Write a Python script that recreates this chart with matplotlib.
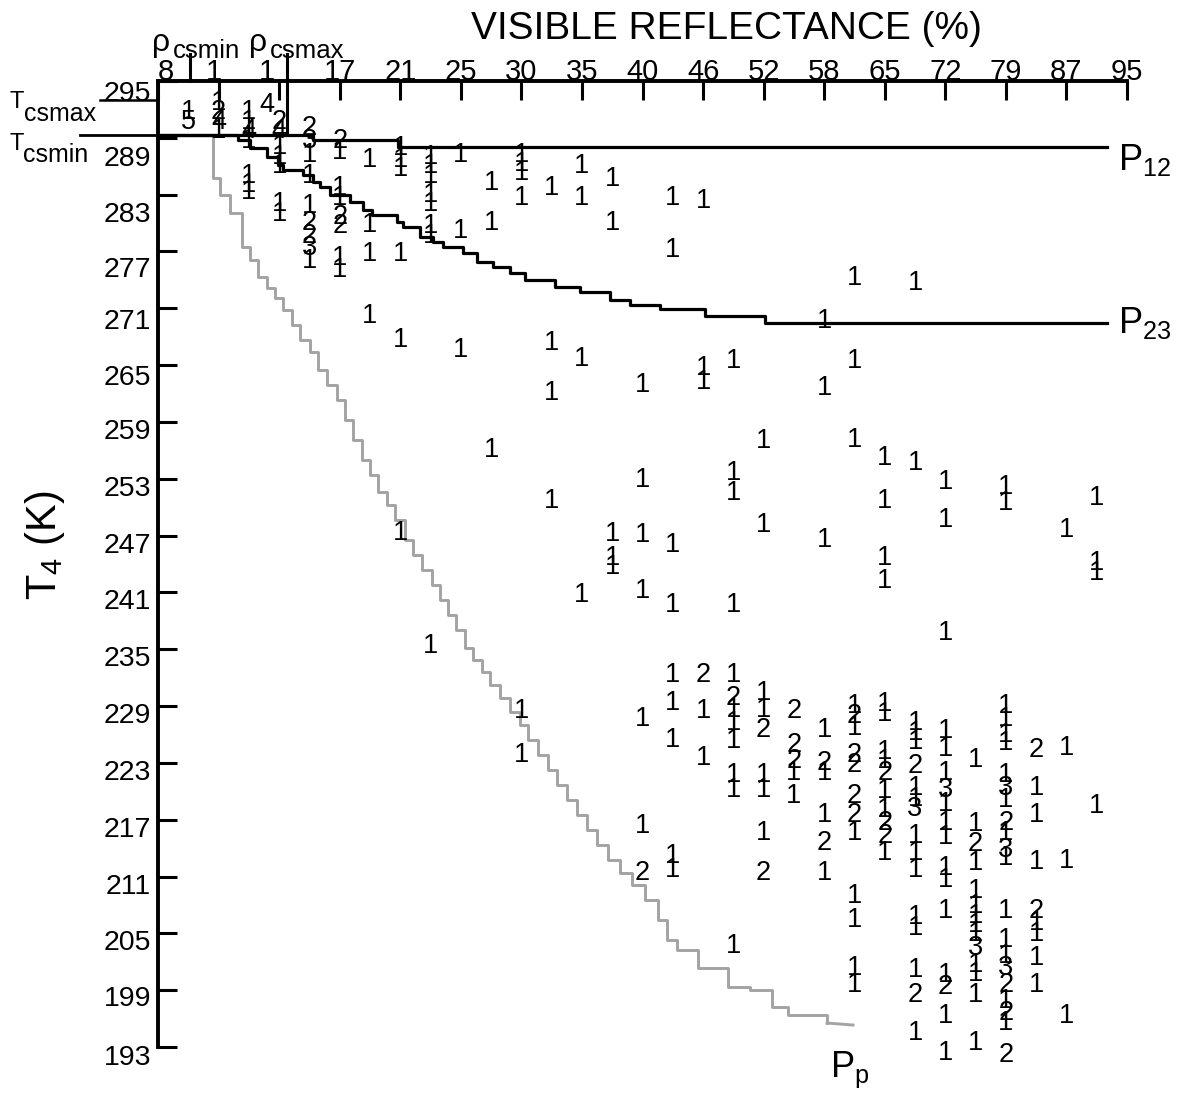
import matplotlib
matplotlib.use("Agg")
import matplotlib.pyplot as plt
import matplotlib.transforms as mtransforms

W, H, DPI = 1183, 1097, 100
plt.rcParams['font.family'] = ['Liberation Sans', 'DejaVu Sans']
plt.rcParams['mathtext.fontset'] = 'custom'
plt.rcParams['mathtext.rm'] = 'Liberation Sans'
plt.rcParams['mathtext.default'] = 'regular'

# ---------------- axis data ----------------
refl_labels = ['8', '1', '1', '17', '21', '25', '30', '35', '40', '46', '52',
               '58', '65', '72', '79', '87', '95']
refl_pos = list(range(len(refl_labels)))          # evenly spaced tick index
t4_ticks = list(range(193, 296, 6))

t_csmax = 293.0
t_csmin = 289.3
rho_csmin = 0.53
rho_csmax = 2.13

# ---------------- threshold curves (x in tick-index units, T in K) --------
p12_x = [0.00, 2.56, 3.96, 15.67]
p12_T = [289.30, 288.77, 288.03, 288.03]

p23_x = [0.00, 1.19, 1.32, 1.52, 1.80, 1.98, 2.06, 2.39, 2.56, 2.67, 2.84,
         3.17, 3.39, 3.53, 3.95, 4.05, 4.33, 4.54, 4.71, 5.04, 5.27, 5.53,
         5.81, 6.06, 6.56, 6.97, 7.46, 7.79, 8.29, 9.03, 10.02, 15.67]
p23_T = [289.30, 289.30, 288.77, 287.93, 286.97, 286.13, 285.60, 285.07,
         284.33, 283.81, 282.96, 282.22, 281.38, 280.85, 280.11, 279.58,
         278.53, 278.00, 277.47, 276.84, 275.89, 275.36, 274.73, 273.99,
         273.25, 272.72, 271.87, 271.35, 270.92, 270.19, 269.45, 269.45]

pp_x = [0.908, 0.908, 1.024, 1.189, 1.387, 1.519, 1.651, 1.800, 1.932, 2.064,
        2.213, 2.345, 2.510, 2.642, 2.790, 2.956, 3.088, 3.220, 3.369, 3.501,
        3.633, 3.781, 3.913, 4.079, 4.211, 4.359, 4.524, 4.657, 4.789, 4.921,
        5.069, 5.201, 5.350, 5.482, 5.647, 5.812, 5.978, 6.110, 6.275, 6.440,
        6.588, 6.754, 6.919, 7.084, 7.249, 7.431, 7.629, 7.827, 8.042, 8.256,
        8.405, 8.570, 8.917, 9.412, 9.775, 10.139, 10.403, 11.047]
pp_T = [289.30, 284.76, 282.96, 281.06, 277.47, 276.10, 274.30, 273.14,
        272.09, 270.82, 269.24, 267.65, 266.38, 264.48, 262.90, 261.32,
        259.20, 257.09, 254.98, 253.39, 251.60, 250.22, 248.64, 246.53,
        244.95, 243.36, 241.78, 240.19, 238.61, 237.02, 235.12, 233.86,
        232.59, 231.22, 229.85, 228.37, 226.99, 225.41, 223.83, 222.24,
        220.66, 219.07, 217.49, 215.91, 214.33, 212.74, 211.37, 210.10,
        208.52, 206.41, 204.30, 203.24, 201.34, 199.33, 199.01, 197.22,
        196.37, 195.53]
pp_end_x = [11.047, 11.476]
pp_end_T = [195.53, 195.32]

# ---------------- histogram counts: column x, T, count ----------------
cnt_x = []
cnt_T = []
cnt_n = []
def col(x, pairs):
    for T, n in pairs:
        cnt_x.append(x); cnt_T.append(T); cnt_n.append(n)

col(0.5, [(292, 1), (291, 5)])
col(1.0, [(293, 1), (292, 2), (291, 4), (290, 1)])
col(1.8, [(292.8, 4)])
col(1.5, [(292, 1), (291, 1), (290, 4), (289, 1), (285.3, 1), (284.3, 1), (283.6, 1)])
col(2.0, [(291, 2), (290, 4), (288.3, 1), (287.3, 1), (286.3, 1), (282.3, 1), (281.3, 1)])
col(2.5, [(290.4, 2), (289, 3), (287.5, 1), (285.3, 1), (282.1, 1), (280.3, 2),
          (279, 2), (277.7, 3), (276.3, 1)])
col(3.0, [(289, 2), (287.8, 1), (284, 1), (283, 1), (281, 2), (280, 2),
          (276.6, 1), (275.4, 1)])
col(3.5, [(287, 1), (280.1, 1), (277, 1), (270.5, 1)])
col(4.0, [(288.2, 1), (287, 1), (286, 1), (277, 1), (268, 1), (247.6, 1)])
col(4.5, [(287.3, 1), (286.3, 1), (285.3, 1), (283.3, 1), (282.3, 1), (280, 1),
          (279, 1), (235.7, 1)])
col(5.0, [(287.5, 1), (279.5, 1), (266.9, 1)])
col(5.5, [(284.5, 1), (280.3, 1), (256.4, 1)])
col(6.0, [(287.5, 1), (286.6, 1), (285.6, 1), (283, 1), (228.8, 1), (224.1, 1)])
col(6.5, [(284, 1), (267.6, 1), (262.4, 1), (251, 1)])
col(7.0, [(286.3, 1), (283, 1), (266, 1), (241, 1)])
col(7.5, [(285, 1), (280.3, 1), (247.5, 1), (245, 1), (244, 1)])
col(8.0, [(263.2, 1), (253.2, 1), (247.4, 1), (241.5, 1), (228, 1), (216.6, 1), (211.7, 2)])
col(8.5, [(283, 1), (277.5, 1), (246.3, 1), (240, 1), (232.6, 1), (229.6, 1),
          (225.7, 1), (213.5, 1), (212, 1)])
col(9.0, [(282.6, 1), (265, 1), (263.5, 1), (232.6, 2), (228.8, 1), (223.8, 1)])
col(9.5, [(265.8, 1), (253.9, 1), (251.8, 1), (240, 1), (232.6, 1), (230.2, 2),
          (228.9, 1), (227.5, 1), (225.6, 1), (222, 1), (220.5, 1), (204, 1)])
col(10.0, [(257.3, 1), (248.4, 1), (230.7, 1), (228.9, 1), (226.8, 2), (222, 1),
           (220.5, 1), (215.9, 1), (211.7, 2)])
col(10.5, [(228.8, 2), (225.2, 2), (223.5, 2), (222.2, 1), (219.8, 1)])
col(11.0, [(270, 1), (262.9, 1), (246.8, 1), (226.8, 1), (223.3, 2), (222.2, 1),
           (217.8, 1), (214.9, 2), (211.7, 1)])
col(11.5, [(274.5, 1), (265.8, 1), (257.4, 1), (229.3, 1), (228.3, 2), (227, 1),
           (224.1, 2), (223.1, 2), (219.8, 2), (217.8, 2), (215.9, 1), (209.3, 1),
           (206.7, 1), (201.7, 1), (199.9, 1)])
col(12.0, [(255.5, 1), (251, 1), (245, 1), (242.5, 1), (229.5, 1), (228.5, 1),
           (224.5, 1), (223.5, 1), (222.2, 2), (220.3, 1), (218.3, 1), (217, 2),
           (215.6, 2), (213.8, 1)])
col(12.5, [(274, 1), (255, 1), (227.5, 1), (226.5, 1), (225.5, 1), (223, 2),
           (220.7, 1), (219.5, 1), (218.5, 3), (215.6, 1), (213.8, 1), (212, 1),
           (207, 1), (205.9, 1), (201.4, 1), (198.8, 2), (194.8, 1)])
col(13.0, [(253, 1), (249, 1), (237, 1), (226.7, 1), (224.8, 1), (222.3, 1),
           (220.5, 3), (219, 1), (217, 1), (215.5, 1), (212.2, 1), (211, 1),
           (207.7, 1), (200.9, 1), (199.7, 2), (196.6, 1), (192.7, 1)])
col(13.5, [(223.6, 1), (216.9, 1), (214.7, 2), (212.7, 1), (209.8, 1), (208.2, 1),
           (207.2, 1), (206.2, 1), (205.2, 1), (203.8, 3), (202, 1), (201, 1),
           (198.8, 1), (193.7, 1)])
col(14.0, [(252.5, 1), (250.8, 1), (229.3, 1), (228, 1), (226.3, 1), (225.4, 1),
           (222, 1), (220.7, 3), (219.4, 1), (217, 2), (215.9, 1), (214.1, 3),
           (213.3, 1), (207.7, 1), (204.6, 1), (202.9, 1), (201.7, 3), (199.9, 2),
           (198.2, 1), (196.9, 2), (195.8, 1), (192.5, 2)])
col(14.5, [(224.7, 2), (220.7, 1), (217.8, 1), (212.9, 1), (207.7, 2), (206.4, 1),
           (205.3, 1), (202.7, 1), (199.9, 1)])
col(15.0, [(247.9, 1), (224.9, 1), (213, 1), (196.6, 1)])
col(15.5, [(251.3, 1), (244.4, 1), (243.4, 1), (218.8, 1)])

# ---------------- figure ----------------
fig = plt.figure(figsize=(W / DPI, H / DPI), dpi=DPI)
ax = fig.add_axes([158 / W, 1 - 1047 / H, 969 / W, 966 / H])
ax.set_xlim(0, 16)
ax.set_ylim(193, 295)
for s in ('right', 'bottom'):
    ax.spines[s].set_visible(False)
for s in ('top', 'left'):
    ax.spines[s].set_linewidth(2.8)

ax.xaxis.tick_top()
ax.set_xticks(refl_pos)
ax.set_xticklabels(refl_labels)
ax.set_yticks(t4_ticks)
ax.set_yticklabels([str(t) for t in t4_ticks])
ax.tick_params(axis='x', direction='in', length=13.7, width=2.2, pad=-3.5, labelsize=21)
ax.tick_params(axis='y', direction='in', length=13.7, width=2.2, pad=5, labelsize=20.5)

x_lab_off = [8, -5, -12] + [0] * 14
for lab, off in zip(ax.get_xticklabels(), x_lab_off):
    lab.set_transform(lab.get_transform() +
                      mtransforms.ScaledTranslation(off / DPI, 0, fig.dpi_scale_trans))
y_lab_off = [8, 6, 7, 7, 7, 7, 7, 7, 7, 7, 7, 7, 10, 11, 16, 17, 18, 10]
for lab, off in zip(ax.get_yticklabels(), y_lab_off):
    lab.set_transform(lab.get_transform() +
                      mtransforms.ScaledTranslation(0, -off / DPI, fig.dpi_scale_trans))

# curves
ax.plot(pp_x, pp_T, drawstyle='steps-post', color='#a3a3a3', lw=2.1, clip_on=False)
ax.plot(pp_end_x, pp_end_T, color='#a3a3a3', lw=2.1, clip_on=False)
ax.plot(p12_x, p12_T, drawstyle='steps-post', color='black', lw=2.3, clip_on=False)
ax.plot(p23_x, p23_T, drawstyle='steps-post', color='black', lw=2.3, clip_on=False)

# clear-sky threshold markers
ax.plot([-1.29, 0], [t_csmin, t_csmin], color='black', lw=2.0, clip_on=False)
ax.plot([-0.96, 0], [t_csmax, t_csmax], color='black', lw=1.8, clip_on=False)
ax.plot([rho_csmin, rho_csmin], [295, 297.9], color='black', lw=2.2, clip_on=False)
ax.plot([rho_csmax, rho_csmax], [t_csmin, 297.9], color='black', lw=2.2, clip_on=False)

# counts
for x, T, n in zip(cnt_x, cnt_T, cnt_n):
    ax.text(x, T, str(n), ha='center', va='center_baseline', fontsize=19.5,
            clip_on=False)

# labels (figure pixel coordinates, origin top-left)
def ptext(x, y, s, **kw):
    fig.text(x / W, 1 - y / H, s, **kw)

ptext(726, 39, 'VISIBLE REFLECTANCE (%)', ha='center', va='baseline', fontsize=28)
ptext(45, 545, r'T$_{4}$ (K)', ha='center', va='center', rotation=90, fontsize=30)
ptext(1118, 170, r'P$_{12}$', ha='left', va='baseline', fontsize=26)
ptext(1118, 333, r'P$_{23}$', ha='left', va='baseline', fontsize=26)
ptext(830, 1077, r'P$_{p}$', ha='left', va='baseline', fontsize=26)

ptext(9, 108, 'T', ha='left', va='baseline', fontsize=17)
ptext(24, 121, 'csmax', ha='left', va='baseline', fontsize=18)
ptext(9, 150, 'T', ha='left', va='baseline', fontsize=17)
ptext(23, 162, 'csmin', ha='left', va='baseline', fontsize=18)
ptext(152, 51, 'ρ', ha='left', va='baseline', fontsize=23)
ptext(173, 58, 'csmin', ha='left', va='baseline', fontsize=18.5)
ptext(249, 51, 'ρ', ha='left', va='baseline', fontsize=23)
ptext(270, 58, 'csmax', ha='left', va='baseline', fontsize=18.5)

fig.savefig('out.png', dpi=DPI)
